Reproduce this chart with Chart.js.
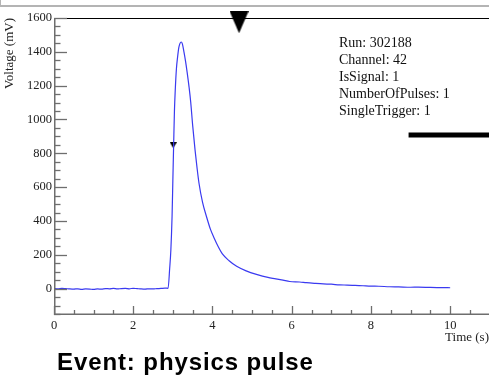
<!DOCTYPE html>
<html>
<head>
<meta charset="utf-8">
<script src="https://cdn.jsdelivr.net/npm/chart.js@4/dist/chart.umd.min.js"></script>
<style>
  html, body { margin: 0; padding: 0; background: #fff; }
  #wrap { position: relative; width: 489px; height: 376px; overflow: hidden; background: #fff; }
  #topbox { position: absolute; left: 0; top: -4px; width: 600px; height: 9px;
            border-left: 1px solid #b4b4b4; border-bottom: 2px solid #b4b4b4; box-sizing: content-box; }
  #c { position: absolute; left: 0; top: 0; }
  #info { position: absolute; left: 339px; top: 34px; font: 14px/17px "Liberation Serif", "Times New Roman", serif; color: #111; white-space: nowrap; }
  #title { position: absolute; left: 57px; top: 349.5px; font: bold 24px/24px "Liberation Sans", Arial, sans-serif; letter-spacing: 0.9px; color: #000; white-space: nowrap; }
</style>
</head>
<body>
<div id="wrap">
  <div id="topbox"></div>
  <canvas id="c" width="489" height="376"></canvas>
  <div id="info"></div>
  <div id="title">Event: physics pulse</div>
</div>
<script>
// ---- data ----
const times = [
  0.0, 0.1, 0.2, 0.3, 0.4, 0.5, 0.6, 0.7, 0.8, 0.9, 1.0, 1.1, 1.2, 1.3, 1.4,
  1.5, 1.6, 1.7, 1.8, 1.9, 2.0, 2.1, 2.2, 2.3, 2.4, 2.5, 2.6, 2.7, 2.8, 2.88,
  2.92, 2.95, 2.98, 3.0, 3.02, 3.04, 3.06, 3.09, 3.12, 3.15, 3.18, 3.21, 3.24, 3.28,
  3.32, 3.36, 3.41, 3.45, 3.5, 3.56, 3.61, 3.66, 3.75, 3.85, 3.95, 4.05, 4.14, 4.25,
  4.42, 4.61, 4.85, 5.11, 5.4, 5.6, 5.78, 5.95, 6.2, 6.37, 6.6, 6.8, 7.0, 7.21,
  7.4, 7.6, 7.8, 8.0, 8.2, 8.47, 8.7, 9.0, 9.2, 9.5, 9.8, 10.0
];
const volts = [
  1, -1, 2, 0, -2, -3, -1, -4, -2, -3, -5, -2, -3, 0, -1,
  1, -2, 0, 1, -1, 2, 0, -2, -3, -1, -2, 0, 1, 3, 2,
  120, 230, 425, 640, 850, 1050, 1170, 1300, 1370, 1425, 1450, 1458, 1447, 1400,
  1345, 1280, 1190, 1105, 965, 820, 715, 623, 510, 425, 350, 295, 250, 205,
  165, 132, 105, 84, 66, 58, 50, 42, 39, 35, 31, 28, 26, 22,
  21, 19, 17, 15, 14, 11, 10, 8, 9, 7, 6, 5
];
const smallMarkerTimes = [3.01];
const smallMarkerVolts = [848];
const bigMarkerTimes = [4.67];
const bigMarkerVolts = [1575];
const barTimes = [8.95, 11.2];
const barVolts = [908, 908];
const xTickLabels = [0, 2, 4, 6, 8, 10];
const yTickLabels = [0, 200, 400, 600, 800, 1000, 1200, 1400, 1600];
const infoLines = ["Run: 302188", "Channel: 42", "IsSignal: 1", "NumberOfPulses: 1", "SingleTrigger: 1"];

document.getElementById('info').innerHTML = infoLines.map(s => '<div>' + s + '</div>').join('');

function triangleCanvas(w, h) {
  const cv = document.createElement('canvas');
  cv.width = w; cv.height = h;
  const g = cv.getContext('2d');
  g.fillStyle = '#000';
  g.beginPath();
  g.moveTo(0, 0); g.lineTo(w, 0); g.lineTo(w / 2, h); g.closePath();
  g.fill();
  return cv;
}
const smallTri = triangleCanvas(7, 6);
const bigTri = triangleCanvas(19, 22);

const toPts = (xs, ys) => xs.map((x, i) => ({ x: x, y: ys[i] }));

const AXIS = '#6e6e6e';
const axesPlugin = {
  id: 'rootAxes',
  afterDatasetsDraw(chart) {
    const { ctx, chartArea: a, scales: { x, y } } = chart;
    ctx.save();
    ctx.strokeStyle = '#000'; ctx.lineWidth = 1;
    ctx.beginPath(); ctx.moveTo(a.left, a.top + 0.5); ctx.lineTo(chart.width, a.top + 0.5); ctx.stroke();
    ctx.strokeStyle = AXIS; ctx.lineWidth = 1.5;
    ctx.beginPath(); ctx.moveTo(a.left + 0.75, a.top); ctx.lineTo(a.left + 0.75, a.bottom); ctx.stroke();
    ctx.beginPath(); ctx.moveTo(a.left, a.bottom - 0.75); ctx.lineTo(chart.width, a.bottom - 0.75); ctx.stroke();
    ctx.lineWidth = 1.3;
    for (let v = -150; v <= 1600; v += 50) {
      const py = Math.round(y.getPixelForValue(v)) + 0.5;
      const len = (v % 200 === 0) ? 13 : 6.5;
      ctx.beginPath(); ctx.moveTo(a.left, py); ctx.lineTo(a.left + len, py); ctx.stroke();
    }
    for (let k = 0; k <= 22; k++) {
      const v = k * 0.5;
      if (v > x.max) break;
      const px = Math.round(x.getPixelForValue(v)) + 0.5;
      const len = (k % 4 === 0) ? 9 : 5;
      ctx.beginPath(); ctx.moveTo(px, a.bottom); ctx.lineTo(px, a.bottom - len); ctx.stroke();
    }
    ctx.restore();
  }
};

const tickFont = { family: "'Liberation Serif', 'Times New Roman', serif", size: 12.5 };

new Chart(document.getElementById('c'), {
  type: 'scatter',
  data: {
    datasets: [
      { data: toPts(times, volts), showLine: true, borderColor: '#3a3af0', borderWidth: 1.2,
        pointRadius: 0, cubicInterpolationMode: 'monotone', fill: false },
      { data: toPts(smallMarkerTimes, smallMarkerVolts), pointStyle: smallTri, pointRadius: 3, showLine: false, clip: false },
      { data: toPts(bigMarkerTimes, bigMarkerVolts), pointStyle: bigTri, pointRadius: 5, showLine: false, clip: false },
      { data: toPts(barTimes, barVolts), showLine: true, borderColor: '#000', borderWidth: 5,
        pointRadius: 0, borderCapStyle: 'butt', clip: false }
    ]
  },
  options: {
    responsive: false,
    animation: false,
    events: [],
    layout: { autoPadding: false, padding: { top: 18, right: 0, left: 0, bottom: 0 } },
    plugins: { legend: { display: false }, tooltip: { enabled: false }, title: { display: false } },
    scales: {
      x: {
        type: 'linear', min: 0, max: 10.98,
        grid: { display: false, drawTicks: false },
        border: { display: false },
        afterBuildTicks: s => { s.ticks = xTickLabels.map(v => ({ value: v })); },
        afterFit: s => { s.height = 61; s.paddingLeft = 0; s.paddingRight = 0; },
        ticks: { font: tickFont, color: '#222', padding: 3, maxRotation: 0, autoSkip: false,
                 callback: v => String(v) },
        title: { display: true, text: 'Time (s)', align: 'end', color: '#222',
                 font: { family: "'Liberation Serif', 'Times New Roman', serif", size: 13 },
                 padding: { top: 0, bottom: 31 } }
      },
      y: {
        type: 'linear', min: -156, max: 1600,
        grid: { display: false, drawTicks: false },
        border: { display: false },
        afterBuildTicks: s => { s.ticks = yTickLabels.map(v => ({ value: v })); },
        afterFit: s => { s.width = 54; s.paddingTop = 0; s.paddingBottom = 0; },
        ticks: { font: tickFont, color: '#222', padding: 2, autoSkip: false,
                 callback: v => String(v) },
        title: { display: true, text: 'Voltage (mV)', align: 'end', color: '#222',
                 font: { family: "'Liberation Serif', 'Times New Roman', serif", size: 13 },
                 padding: { top: 2, bottom: 0 } }
      }
    }
  },
  plugins: [axesPlugin]
});
</script>
</body>
</html>
